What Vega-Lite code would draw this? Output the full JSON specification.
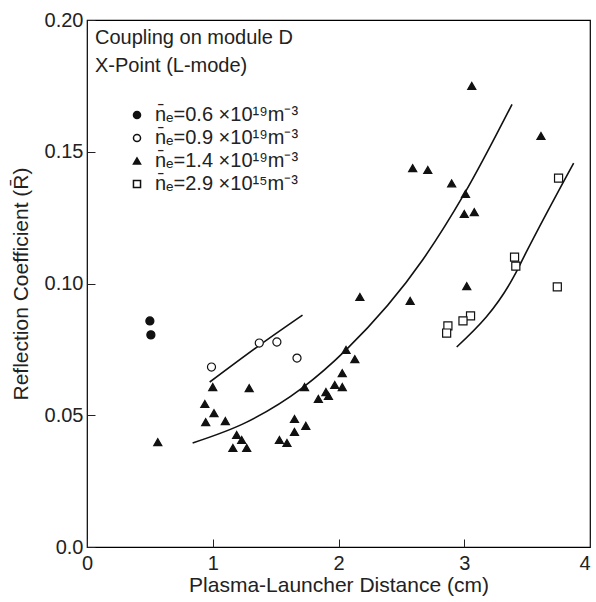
{
  "$schema": "https://vega.github.io/schema/vega-lite/v6.json",
  "width": 503,
  "height": 527,
  "autosize": {"type": "none"},
  "padding": {"left": 87, "top": 20, "right": 6, "bottom": 55},
  "background": "white",
  "config": {
    "font": "Liberation Sans",
    "view": {"stroke": "black", "strokeWidth": 1.2},
    "axis": {"labelColor": "#222", "titleColor": "#222", "tickColor": "#222"}
  },
  "title": {
    "text": ["Coupling on module D", "X-Point (L-mode)"],
    "anchor": "start",
    "frame": "group",
    "orient": "top",
    "baseline": "top",
    "offset": 0,
    "dx": 8,
    "dy": 66,
    "fontSize": 20,
    "fontWeight": "normal",
    "lineHeight": 28,
    "color": "#222"
  },
  "datasets": {
    "points": [
      {"x": 0.5, "y": 0.0858, "series": "0.6"},
      {"x": 0.508, "y": 0.0805, "series": "0.6"},
      {"x": 0.99, "y": 0.0683, "series": "0.9"},
      {"x": 1.37, "y": 0.0774, "series": "0.9"},
      {"x": 1.51, "y": 0.0778, "series": "0.9"},
      {"x": 1.67, "y": 0.0717, "series": "0.9"},
      {"x": 0.563, "y": 0.0398, "series": "1.4"},
      {"x": 1.0, "y": 0.0607, "series": "1.4"},
      {"x": 1.29, "y": 0.0603, "series": "1.4"},
      {"x": 0.937, "y": 0.0543, "series": "1.4"},
      {"x": 1.01, "y": 0.0508, "series": "1.4"},
      {"x": 0.944, "y": 0.0474, "series": "1.4"},
      {"x": 1.1, "y": 0.0478, "series": "1.4"},
      {"x": 1.19, "y": 0.0425, "series": "1.4"},
      {"x": 1.23, "y": 0.0406, "series": "1.4"},
      {"x": 1.16, "y": 0.0376, "series": "1.4"},
      {"x": 1.27, "y": 0.0376, "series": "1.4"},
      {"x": 1.53, "y": 0.0406, "series": "1.4"},
      {"x": 1.59, "y": 0.0395, "series": "1.4"},
      {"x": 1.65, "y": 0.0486, "series": "1.4"},
      {"x": 1.74, "y": 0.046, "series": "1.4"},
      {"x": 1.65, "y": 0.0437, "series": "1.4"},
      {"x": 1.73, "y": 0.0607, "series": "1.4"},
      {"x": 1.84, "y": 0.0562, "series": "1.4"},
      {"x": 1.9, "y": 0.0588, "series": "1.4"},
      {"x": 1.92, "y": 0.0573, "series": "1.4"},
      {"x": 1.97, "y": 0.0615, "series": "1.4"},
      {"x": 2.03, "y": 0.0607, "series": "1.4"},
      {"x": 2.03, "y": 0.066, "series": "1.4"},
      {"x": 2.06, "y": 0.0748, "series": "1.4"},
      {"x": 2.13, "y": 0.0713, "series": "1.4"},
      {"x": 2.17, "y": 0.0949, "series": "1.4"},
      {"x": 2.57, "y": 0.0934, "series": "1.4"},
      {"x": 3.02, "y": 0.099, "series": "1.4"},
      {"x": 3.06, "y": 0.175, "series": "1.4"},
      {"x": 3.61, "y": 0.156, "series": "1.4"},
      {"x": 2.59, "y": 0.1438, "series": "1.4"},
      {"x": 2.71, "y": 0.1431, "series": "1.4"},
      {"x": 2.9, "y": 0.138, "series": "1.4"},
      {"x": 3.01, "y": 0.134, "series": "1.4"},
      {"x": 3.0, "y": 0.1264, "series": "1.4"},
      {"x": 3.08, "y": 0.1271, "series": "1.4"},
      {"x": 3.4, "y": 0.11, "series": "2.9"},
      {"x": 3.41, "y": 0.1066, "series": "2.9"},
      {"x": 3.74, "y": 0.0987, "series": "2.9"},
      {"x": 3.75, "y": 0.14, "series": "2.9"},
      {"x": 3.05, "y": 0.0877, "series": "2.9"},
      {"x": 2.99, "y": 0.0858, "series": "2.9"},
      {"x": 2.87, "y": 0.0839, "series": "2.9"},
      {"x": 2.86, "y": 0.0812, "series": "2.9"}
    ],
    "curves": [
      {"x": 0.976, "y": 0.0626, "curve": "a"},
      {"x": 1.39, "y": 0.0772, "curve": "a"},
      {"x": 1.714, "y": 0.088, "curve": "a"},
      {"x": 0.84, "y": 0.0395, "curve": "b"},
      {"x": 1.27, "y": 0.0474, "curve": "b"},
      {"x": 1.71, "y": 0.0603, "curve": "b"},
      {"x": 2.06, "y": 0.0748, "curve": "b"},
      {"x": 2.67, "y": 0.109, "curve": "b"},
      {"x": 3.0, "y": 0.134, "curve": "b"},
      {"x": 3.38, "y": 0.168, "curve": "b"},
      {"x": 2.94, "y": 0.0759, "curve": "c"},
      {"x": 3.41, "y": 0.104, "curve": "c"},
      {"x": 3.49, "y": 0.1116, "curve": "c"},
      {"x": 3.87, "y": 0.1457, "curve": "c"}
    ]
  },
  "layer": [
    {
      "data": {"name": "curves"},
      "mark": {"type": "line", "color": "#111", "strokeWidth": 1.6, "interpolate": "monotone"},
      "encoding": {
        "x": {"field": "x", "type": "quantitative", "scale": {"domain": [0, 4], "nice": false}},
        "y": {"field": "y", "type": "quantitative", "scale": {"domain": [0, 0.2], "nice": false}},
        "detail": {"field": "curve"}
      }
    },
    {
      "data": {"name": "points"},
      "mark": {"type": "point", "stroke": "#111", "strokeWidth": 1.2, "size": 65, "opacity": 1},
      "encoding": {
        "x": {
          "field": "x", "type": "quantitative",
          "scale": {"domain": [0, 4], "nice": false},
          "axis": {
            "values": [0, 1, 2, 3, 4], "format": "d", "domain": false, "grid": false,
            "labelFlush": false, "labelOverlap": false, "labelBound": false,
            "labelAlign": {"expr": "datum.value == 4 ? 'right' : 'center'"},
            "tickSize": -8, "labelPadding": 14, "labelFontSize": 20,
            "title": "Plasma-Launcher Distance (cm)", "titleFontSize": 21,
            "titleFontWeight": "normal", "titlePadding": 1
          }
        },
        "y": {
          "field": "y", "type": "quantitative",
          "scale": {"domain": [0, 0.2], "nice": false},
          "axis": {
            "values": [0, 0.05, 0.1, 0.15, 0.2], "domain": false, "grid": false,
            "labelFlush": false, "labelOverlap": false,
            "tickSize": -8, "labelPadding": 12, "labelFontSize": 20,
            "labelExpr": "datum.value == 0 ? '0.0' : format(datum.value, '.2f')",
            "title": "Reflection Coefficient (R\u0304)", "titleFontSize": 21,
            "titleFontWeight": "normal", "titlePadding": 13
          }
        },
        "shape": {
          "field": "series", "type": "nominal",
          "scale": {"domain": ["0.6", "0.9", "1.4", "2.9"], "range": ["circle", "circle", "triangle-up", "square"]},
          "legend": {
            "title": null, "orient": "none", "legendX": 40, "legendY": 85, "padding": 0,
            "labelFontSize": 20, "labelColor": "#222", "rowPadding": 3, "labelOffset": 8,
            "symbolSize": 50,
            "encode": {"symbols": {"update": {"stroke": {"value": "#111"}, "strokeWidth": {"value": 1.2}}}},
            "labelExpr": "datum.value == '0.6' ? 'n\u0304\u2091=0.6 \u00d710\u00b9\u2079m\u207b\u00b3' : datum.value == '0.9' ? 'n\u0304\u2091=0.9 \u00d710\u00b9\u2079m\u207b\u00b3' : datum.value == '1.4' ? 'n\u0304\u2091=1.4 \u00d710\u00b9\u2079m\u207b\u00b3' : 'n\u0304\u2091=2.9 \u00d710\u00b9\u2075m\u207b\u00b3'"
          }
        },
        "fill": {
          "field": "series", "type": "nominal",
          "scale": {"domain": ["0.6", "0.9", "1.4", "2.9"], "range": ["#111", "white", "#111", "white"]},
          "legend": {
            "title": null, "orient": "none", "legendX": 40, "legendY": 85, "padding": 0,
            "labelFontSize": 20, "labelColor": "#222", "rowPadding": 3, "labelOffset": 8,
            "symbolSize": 50,
            "encode": {"symbols": {"update": {"stroke": {"value": "#111"}, "strokeWidth": {"value": 1.2}}}},
            "labelExpr": "datum.value == '0.6' ? 'n\u0304\u2091=0.6 \u00d710\u00b9\u2079m\u207b\u00b3' : datum.value == '0.9' ? 'n\u0304\u2091=0.9 \u00d710\u00b9\u2079m\u207b\u00b3' : datum.value == '1.4' ? 'n\u0304\u2091=1.4 \u00d710\u00b9\u2079m\u207b\u00b3' : 'n\u0304\u2091=2.9 \u00d710\u00b9\u2075m\u207b\u00b3'"
          }
        }
      }
    }
  ]
}
